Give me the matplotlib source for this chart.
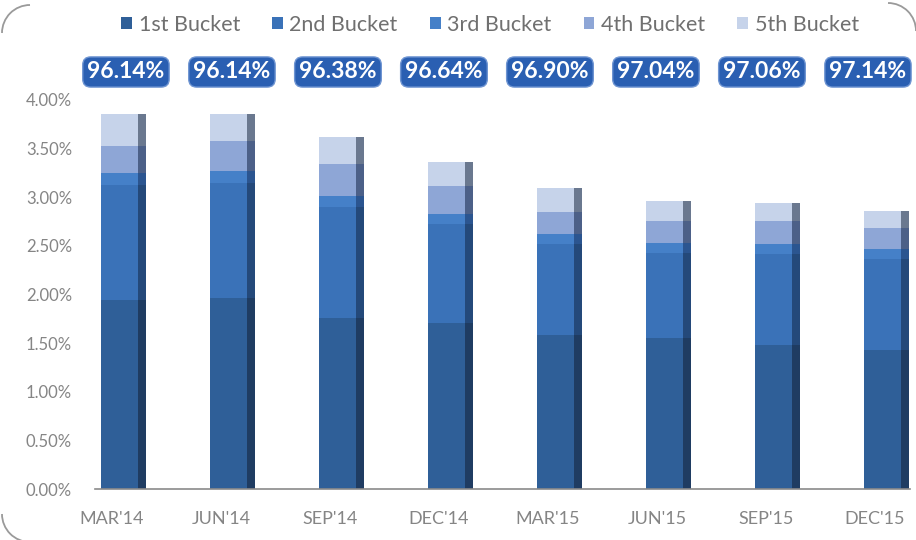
import matplotlib
matplotlib.use("Agg")
import matplotlib.pyplot as plt
from matplotlib.patches import Arc
from matplotlib.ticker import FuncFormatter

# Delinquency buckets (% of portfolio) per quarter
quarters = ["MAR'14", "JUN'14", "SEP'14", "DEC'14", "MAR'15", "JUN'15", "SEP'15", "DEC'15"]
bucket_names = ["1st Bucket", "2nd Bucket", "3rd Bucket", "4th Bucket", "5th Bucket"]
bucket1 = [1.94, 1.96, 1.76, 1.71, 1.58, 1.55, 1.48, 1.43]
bucket2 = [1.19, 1.19, 1.14, 1.01, 0.94, 0.88, 0.94, 0.94]
bucket3 = [0.12, 0.12, 0.11, 0.11, 0.10, 0.10, 0.10, 0.10]
bucket4 = [0.28, 0.31, 0.33, 0.29, 0.23, 0.23, 0.24, 0.21]
bucket5 = [0.33, 0.28, 0.28, 0.24, 0.25, 0.20, 0.18, 0.18]
y_ticks = [0.0, 0.5, 1.0, 1.5, 2.0, 2.5, 3.0, 3.5, 4.0]

buckets = [bucket1, bucket2, bucket3, bucket4, bucket5]
front_colors = ["#2f5f98", "#3a72b8", "#4580c8", "#8ea6d6", "#c6d3ea"]
side_colors = ["#1f3c62", "#24497a", "#2b5590", "#4c6088", "#6a788f"]
legend_text = "#707070"
tick_text = "#858585"

plt.rcParams["font.family"] = ["Lato", "DejaVu Sans"]

W, H = 916, 540
fig = plt.figure(figsize=(W / 100, H / 100), dpi=100)
fig.patch.set_facecolor("white")

ax = fig.add_axes([95 / W, 51 / H, 815 / W, 389 / H])
x = list(range(len(quarters)))

bottom = [0.0] * len(quarters)
containers = []
for vals, fc, sc, name in zip(buckets, front_colors, side_colors, bucket_names):
    c = ax.bar([i - 0.10 for i in x], vals, width=0.34, bottom=bottom,
               align="edge", color=fc, linewidth=0, label=name)
    ax.bar([i + 0.24 for i in x], vals, width=0.075, bottom=bottom,
           align="edge", color=sc, linewidth=0)
    containers.append(c)
    bottom = [b + v for b, v in zip(bottom, vals)]

ax.set_xlim(-0.156, 7.321)
ax.set_ylim(0, 4.0)
ax.set_yticks(y_ticks)
ax.yaxis.set_major_formatter(FuncFormatter(lambda v, p: f"{v:.2f}%"))
ax.set_xticks(x)
ax.set_xticklabels(quarters)
ax.tick_params(axis="both", length=0, colors=tick_text)
ax.tick_params(axis="y", labelsize=12, pad=16.5)
ax.tick_params(axis="x", labelsize=13, pad=16)
for s in ["top", "right", "left"]:
    ax.spines[s].set_visible(False)
ax.spines["bottom"].set_color("#8a8a8a")
ax.spines["bottom"].set_linewidth(1.2)

# Portfolio quality (100% minus delinquency) badges above the bars
badge_step = 106 / 109
for i, total in enumerate(bottom):
    ax.annotate(f"{100 - total:.2f}%", xy=(0.128 + i * badge_step, 0),
                xycoords=("data", "figure fraction"),
                xytext=(0, (H - 72)), textcoords="offset pixels",
                ha="center", va="center", color="white", fontsize=16.5, fontweight="bold",
                bbox=dict(boxstyle="round,pad=0.2,rounding_size=0.35",
                          fc="#2a5fb2", ec="#6f95d2", lw=1.0))

fig.legend(handles=containers, labels=bucket_names, loc="center",
           bbox_to_anchor=(490 / W, 1 - 25 / H), ncol=5, frameon=False,
           fontsize=15.5, handlelength=0.5, handleheight=0.5, handletextpad=0.3,
           columnspacing=1.5, labelcolor=legend_text)

# Rounded corners of the panel frame (overlay has y pointing down)
overlay = fig.add_axes([0, 0, 1, 1], zorder=-1)
overlay.set_xlim(0, W)
overlay.set_ylim(H, 0)
overlay.axis("off")
for (cx, cy, t1, t2) in [(30, 33, 180, 270), (888, 31, 270, 360), (30, 514, 90, 180)]:
    overlay.add_patch(Arc((cx, cy), 56, 56, theta1=t1, theta2=t2, color="#9a9a9a", lw=1.3))

fig.savefig("out.png", dpi=100, facecolor="white")
